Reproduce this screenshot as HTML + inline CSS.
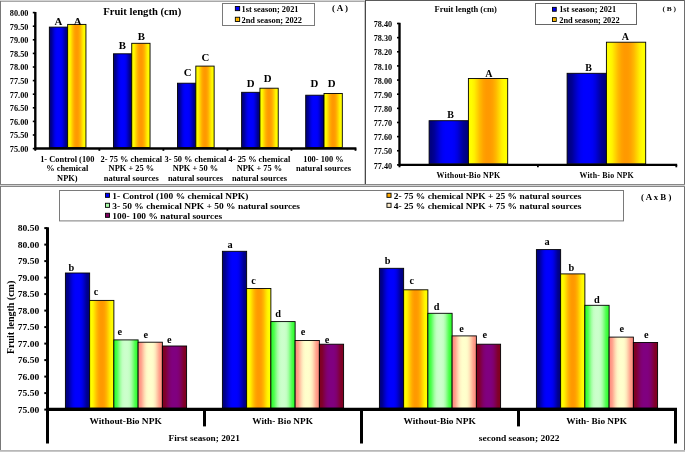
<!DOCTYPE html>
<html><head><meta charset="utf-8"><style>
html,body{margin:0;padding:0;background:#fff;width:685px;height:452px;overflow:hidden}
svg{display:block;will-change:transform}
text{font-family:"Liberation Serif",serif;font-weight:bold}
</style></head><body>
<svg width="685" height="452" viewBox="0 0 685 452"><defs><linearGradient id="gB" x1="0" x2="1" y1="0" y2="0"><stop offset="0.000" stop-color="#000080"/><stop offset="0.060" stop-color="#000083"/><stop offset="0.130" stop-color="#000096"/><stop offset="0.200" stop-color="#0000b9"/><stop offset="0.280" stop-color="#0000df"/><stop offset="0.350" stop-color="#0000f5"/><stop offset="0.420" stop-color="#0000fe"/><stop offset="0.500" stop-color="#0000ff"/><stop offset="0.580" stop-color="#0000fe"/><stop offset="0.650" stop-color="#0000f5"/><stop offset="0.720" stop-color="#0000df"/><stop offset="0.800" stop-color="#0000b9"/><stop offset="0.870" stop-color="#000096"/><stop offset="0.940" stop-color="#000083"/><stop offset="1.000" stop-color="#000080"/></linearGradient><linearGradient id="gO" x1="0" x2="1" y1="0" y2="0"><stop offset="0.000" stop-color="#ffff00"/><stop offset="0.080" stop-color="#fffd00"/><stop offset="0.150" stop-color="#fff000"/><stop offset="0.220" stop-color="#ffd600"/><stop offset="0.300" stop-color="#ffb800"/><stop offset="0.380" stop-color="#ffa300"/><stop offset="0.450" stop-color="#ff9a00"/><stop offset="0.500" stop-color="#ff9900"/><stop offset="0.550" stop-color="#ff9a00"/><stop offset="0.620" stop-color="#ffa300"/><stop offset="0.700" stop-color="#ffb800"/><stop offset="0.780" stop-color="#ffd600"/><stop offset="0.850" stop-color="#fff000"/><stop offset="0.920" stop-color="#fffd00"/><stop offset="1.000" stop-color="#ffff00"/></linearGradient><linearGradient id="gG" x1="0" x2="1" y1="0" y2="0"><stop offset="0.000" stop-color="#33ff33"/><stop offset="0.060" stop-color="#36ff36"/><stop offset="0.130" stop-color="#4dff4d"/><stop offset="0.200" stop-color="#78ff78"/><stop offset="0.280" stop-color="#a6ffa6"/><stop offset="0.350" stop-color="#c0ffc0"/><stop offset="0.420" stop-color="#caffca"/><stop offset="0.500" stop-color="#ccffcc"/><stop offset="0.580" stop-color="#caffca"/><stop offset="0.650" stop-color="#c0ffc0"/><stop offset="0.720" stop-color="#a6ffa6"/><stop offset="0.800" stop-color="#78ff78"/><stop offset="0.870" stop-color="#4dff4d"/><stop offset="0.940" stop-color="#36ff36"/><stop offset="1.000" stop-color="#33ff33"/></linearGradient><linearGradient id="gP" x1="0" x2="1" y1="0" y2="0"><stop offset="0.000" stop-color="#ff9080"/><stop offset="0.060" stop-color="#ff9282"/><stop offset="0.130" stop-color="#ffa38d"/><stop offset="0.200" stop-color="#ffc2a2"/><stop offset="0.280" stop-color="#ffe3b9"/><stop offset="0.350" stop-color="#fff6c6"/><stop offset="0.420" stop-color="#fffecb"/><stop offset="0.500" stop-color="#ffffcc"/><stop offset="0.580" stop-color="#fffecb"/><stop offset="0.650" stop-color="#fff6c6"/><stop offset="0.720" stop-color="#ffe3b9"/><stop offset="0.800" stop-color="#ffc2a2"/><stop offset="0.870" stop-color="#ffa38d"/><stop offset="0.940" stop-color="#ff9282"/><stop offset="1.000" stop-color="#ff9080"/></linearGradient><linearGradient id="gM" x1="0" x2="1" y1="0" y2="0"><stop offset="0.000" stop-color="#800020"/><stop offset="0.060" stop-color="#800022"/><stop offset="0.130" stop-color="#800030"/><stop offset="0.200" stop-color="#80004b"/><stop offset="0.280" stop-color="#800068"/><stop offset="0.350" stop-color="#800078"/><stop offset="0.420" stop-color="#80007f"/><stop offset="0.500" stop-color="#800080"/><stop offset="0.580" stop-color="#80007f"/><stop offset="0.650" stop-color="#800078"/><stop offset="0.720" stop-color="#800068"/><stop offset="0.800" stop-color="#80004b"/><stop offset="0.870" stop-color="#800030"/><stop offset="0.940" stop-color="#800022"/><stop offset="1.000" stop-color="#800020"/></linearGradient></defs><rect width="685" height="452" fill="#fff"/><rect x="0.00" y="0.00" width="365.00" height="1.00" fill="#d3d3d3"/>
<rect x="0.00" y="1.00" width="365.00" height="1.00" fill="#a8a8a8"/>
<rect x="365.00" y="0.00" width="320.00" height="1.00" fill="#5a5a5a"/>
<rect x="0.00" y="1.00" width="1.00" height="184.00" fill="#787878"/>
<rect x="364.00" y="2.00" width="1.00" height="182.00" fill="#c8c8c8"/>
<rect x="365.00" y="0.00" width="1.00" height="185.00" fill="#484848"/>
<rect x="684.00" y="0.00" width="1.00" height="452.00" fill="#6e6e6e"/>
<rect x="0.00" y="184.00" width="685.00" height="1.00" fill="#888888"/>
<rect x="0.00" y="185.00" width="685.00" height="1.00" fill="#d0d0d0"/>
<rect x="0.00" y="186.00" width="685.00" height="1.00" fill="#888888"/>
<rect x="0.00" y="186.00" width="1.00" height="264.00" fill="#787878"/>
<rect x="0.00" y="450.00" width="685.00" height="1.00" fill="#b8b8b8"/>
<rect x="0.00" y="451.00" width="685.00" height="1.00" fill="#c8c8c8"/>
<line x1="35.30" y1="12.00" x2="35.30" y2="149.70" stroke="#000" stroke-width="2.4" stroke-linecap="butt"/>
<line x1="32.80" y1="12.60" x2="35.30" y2="12.60" stroke="#000" stroke-width="1.6" stroke-linecap="butt"/>
<text x="9.80" y="15.90" font-size="8.3" font-family="'Liberation Serif', serif" font-weight="bold" text-anchor="start" fill="#000" textLength="18.60" lengthAdjust="spacingAndGlyphs">80.00</text>
<line x1="32.80" y1="26.20" x2="35.30" y2="26.20" stroke="#000" stroke-width="1.6" stroke-linecap="butt"/>
<text x="9.80" y="29.50" font-size="8.3" font-family="'Liberation Serif', serif" font-weight="bold" text-anchor="start" fill="#000" textLength="18.60" lengthAdjust="spacingAndGlyphs">79.50</text>
<line x1="32.80" y1="39.80" x2="35.30" y2="39.80" stroke="#000" stroke-width="1.6" stroke-linecap="butt"/>
<text x="9.80" y="43.10" font-size="8.3" font-family="'Liberation Serif', serif" font-weight="bold" text-anchor="start" fill="#000" textLength="18.60" lengthAdjust="spacingAndGlyphs">79.00</text>
<line x1="32.80" y1="53.40" x2="35.30" y2="53.40" stroke="#000" stroke-width="1.6" stroke-linecap="butt"/>
<text x="9.80" y="56.70" font-size="8.3" font-family="'Liberation Serif', serif" font-weight="bold" text-anchor="start" fill="#000" textLength="18.60" lengthAdjust="spacingAndGlyphs">78.50</text>
<line x1="32.80" y1="67.00" x2="35.30" y2="67.00" stroke="#000" stroke-width="1.6" stroke-linecap="butt"/>
<text x="9.80" y="70.30" font-size="8.3" font-family="'Liberation Serif', serif" font-weight="bold" text-anchor="start" fill="#000" textLength="18.60" lengthAdjust="spacingAndGlyphs">78.00</text>
<line x1="32.80" y1="80.60" x2="35.30" y2="80.60" stroke="#000" stroke-width="1.6" stroke-linecap="butt"/>
<text x="9.80" y="83.90" font-size="8.3" font-family="'Liberation Serif', serif" font-weight="bold" text-anchor="start" fill="#000" textLength="18.60" lengthAdjust="spacingAndGlyphs">77.50</text>
<line x1="32.80" y1="94.20" x2="35.30" y2="94.20" stroke="#000" stroke-width="1.6" stroke-linecap="butt"/>
<text x="9.80" y="97.50" font-size="8.3" font-family="'Liberation Serif', serif" font-weight="bold" text-anchor="start" fill="#000" textLength="18.60" lengthAdjust="spacingAndGlyphs">77.00</text>
<line x1="32.80" y1="107.80" x2="35.30" y2="107.80" stroke="#000" stroke-width="1.6" stroke-linecap="butt"/>
<text x="9.80" y="111.10" font-size="8.3" font-family="'Liberation Serif', serif" font-weight="bold" text-anchor="start" fill="#000" textLength="18.60" lengthAdjust="spacingAndGlyphs">76.50</text>
<line x1="32.80" y1="121.40" x2="35.30" y2="121.40" stroke="#000" stroke-width="1.6" stroke-linecap="butt"/>
<text x="9.80" y="124.70" font-size="8.3" font-family="'Liberation Serif', serif" font-weight="bold" text-anchor="start" fill="#000" textLength="18.60" lengthAdjust="spacingAndGlyphs">76.00</text>
<line x1="32.80" y1="135.00" x2="35.30" y2="135.00" stroke="#000" stroke-width="1.6" stroke-linecap="butt"/>
<text x="9.80" y="138.30" font-size="8.3" font-family="'Liberation Serif', serif" font-weight="bold" text-anchor="start" fill="#000" textLength="18.60" lengthAdjust="spacingAndGlyphs">75.50</text>
<line x1="32.80" y1="148.60" x2="35.30" y2="148.60" stroke="#000" stroke-width="1.6" stroke-linecap="butt"/>
<text x="9.80" y="151.90" font-size="8.3" font-family="'Liberation Serif', serif" font-weight="bold" text-anchor="start" fill="#000" textLength="18.60" lengthAdjust="spacingAndGlyphs">75.00</text>
<line x1="35.30" y1="148.50" x2="356.40" y2="148.50" stroke="#000" stroke-width="2.4" stroke-linecap="butt"/>
<line x1="35.30" y1="148.50" x2="35.30" y2="150.80" stroke="#000" stroke-width="1.8" stroke-linecap="butt"/>
<line x1="99.34" y1="148.50" x2="99.34" y2="150.80" stroke="#000" stroke-width="1.8" stroke-linecap="butt"/>
<line x1="163.38" y1="148.50" x2="163.38" y2="150.80" stroke="#000" stroke-width="1.8" stroke-linecap="butt"/>
<line x1="227.42" y1="148.50" x2="227.42" y2="150.80" stroke="#000" stroke-width="1.8" stroke-linecap="butt"/>
<line x1="291.46" y1="148.50" x2="291.46" y2="150.80" stroke="#000" stroke-width="1.8" stroke-linecap="butt"/>
<line x1="355.50" y1="148.50" x2="355.50" y2="150.80" stroke="#000" stroke-width="1.8" stroke-linecap="butt"/>
<rect x="49.35" y="27.10" width="18.30" height="120.40" fill="url(#gB)" stroke="#000" stroke-width="0.9"/>
<rect x="67.65" y="24.40" width="18.30" height="123.10" fill="url(#gO)" stroke="#000" stroke-width="0.9"/>
<rect x="113.44" y="53.80" width="18.30" height="93.70" fill="url(#gB)" stroke="#000" stroke-width="0.9"/>
<rect x="131.74" y="43.30" width="18.30" height="104.20" fill="url(#gO)" stroke="#000" stroke-width="0.9"/>
<rect x="177.53" y="83.20" width="18.30" height="64.30" fill="url(#gB)" stroke="#000" stroke-width="0.9"/>
<rect x="195.83" y="66.10" width="18.30" height="81.40" fill="url(#gO)" stroke="#000" stroke-width="0.9"/>
<rect x="241.62" y="92.30" width="18.30" height="55.20" fill="url(#gB)" stroke="#000" stroke-width="0.9"/>
<rect x="259.92" y="88.20" width="18.30" height="59.30" fill="url(#gO)" stroke="#000" stroke-width="0.9"/>
<rect x="305.71" y="95.20" width="18.30" height="52.30" fill="url(#gB)" stroke="#000" stroke-width="0.9"/>
<rect x="324.01" y="93.50" width="18.30" height="54.00" fill="url(#gO)" stroke="#000" stroke-width="0.9"/>
<text x="58.40" y="24.90" font-size="10.8" font-family="'Liberation Serif', serif" font-weight="bold" text-anchor="middle" fill="#000">A</text>
<text x="77.60" y="24.50" font-size="10.8" font-family="'Liberation Serif', serif" font-weight="bold" text-anchor="middle" fill="#000">A</text>
<text x="122.30" y="48.50" font-size="10.8" font-family="'Liberation Serif', serif" font-weight="bold" text-anchor="middle" fill="#000">B</text>
<text x="141.30" y="40.00" font-size="10.8" font-family="'Liberation Serif', serif" font-weight="bold" text-anchor="middle" fill="#000">B</text>
<text x="187.60" y="75.80" font-size="10.8" font-family="'Liberation Serif', serif" font-weight="bold" text-anchor="middle" fill="#000">C</text>
<text x="205.50" y="60.90" font-size="10.8" font-family="'Liberation Serif', serif" font-weight="bold" text-anchor="middle" fill="#000">C</text>
<text x="250.70" y="87.00" font-size="10.8" font-family="'Liberation Serif', serif" font-weight="bold" text-anchor="middle" fill="#000">D</text>
<text x="267.70" y="81.70" font-size="10.8" font-family="'Liberation Serif', serif" font-weight="bold" text-anchor="middle" fill="#000">D</text>
<text x="314.40" y="87.10" font-size="10.8" font-family="'Liberation Serif', serif" font-weight="bold" text-anchor="middle" fill="#000">D</text>
<text x="331.60" y="87.10" font-size="10.8" font-family="'Liberation Serif', serif" font-weight="bold" text-anchor="middle" fill="#000">D</text>
<text x="67.32" y="161.90" font-size="8.4" font-family="'Liberation Serif', serif" font-weight="bold" text-anchor="middle" fill="#000">1- Control (100</text>
<text x="67.32" y="171.00" font-size="8.4" font-family="'Liberation Serif', serif" font-weight="bold" text-anchor="middle" fill="#000">% chemical</text>
<text x="67.32" y="180.60" font-size="8.4" font-family="'Liberation Serif', serif" font-weight="bold" text-anchor="middle" fill="#000">NPK)</text>
<text x="131.36" y="161.90" font-size="8.4" font-family="'Liberation Serif', serif" font-weight="bold" text-anchor="middle" fill="#000">2- 75 % chemical</text>
<text x="131.36" y="171.00" font-size="8.4" font-family="'Liberation Serif', serif" font-weight="bold" text-anchor="middle" fill="#000">NPK + 25 %</text>
<text x="131.36" y="180.60" font-size="8.4" font-family="'Liberation Serif', serif" font-weight="bold" text-anchor="middle" fill="#000">natural sources</text>
<text x="195.40" y="161.90" font-size="8.4" font-family="'Liberation Serif', serif" font-weight="bold" text-anchor="middle" fill="#000">3- 50 % chemical</text>
<text x="195.40" y="171.00" font-size="8.4" font-family="'Liberation Serif', serif" font-weight="bold" text-anchor="middle" fill="#000">NPK + 50 %</text>
<text x="195.40" y="180.60" font-size="8.4" font-family="'Liberation Serif', serif" font-weight="bold" text-anchor="middle" fill="#000">natural sources</text>
<text x="259.44" y="161.90" font-size="8.4" font-family="'Liberation Serif', serif" font-weight="bold" text-anchor="middle" fill="#000">4- 25 % chemical</text>
<text x="259.44" y="171.00" font-size="8.4" font-family="'Liberation Serif', serif" font-weight="bold" text-anchor="middle" fill="#000">NPK + 75 %</text>
<text x="259.44" y="180.60" font-size="8.4" font-family="'Liberation Serif', serif" font-weight="bold" text-anchor="middle" fill="#000">natural sources</text>
<text x="323.48" y="161.90" font-size="8.4" font-family="'Liberation Serif', serif" font-weight="bold" text-anchor="middle" fill="#000">100- 100 %</text>
<text x="323.48" y="171.00" font-size="8.4" font-family="'Liberation Serif', serif" font-weight="bold" text-anchor="middle" fill="#000">natural sources</text>
<text x="103.20" y="15.20" font-size="10.6" font-family="'Liberation Serif', serif" font-weight="bold" text-anchor="start" fill="#000" textLength="78.00" lengthAdjust="spacingAndGlyphs">Fruit length (cm)</text>
<rect x="222.50" y="3.50" width="92.00" height="22.00" fill="#fff" stroke="#7a7a7a" stroke-width="1"/>
<rect x="235.35" y="6.45" width="4.30" height="4.20" fill="#0000ff" stroke="#000" stroke-width="0.9"/>
<rect x="235.35" y="17.25" width="4.30" height="4.20" fill="url(#gO)" stroke="#000" stroke-width="0.9"/>
<text x="241.50" y="11.80" font-size="8.4" font-family="'Liberation Serif', serif" font-weight="bold" text-anchor="start" fill="#000" textLength="57.00" lengthAdjust="spacingAndGlyphs">1st season; 2021</text>
<text x="241.50" y="22.80" font-size="8.4" font-family="'Liberation Serif', serif" font-weight="bold" text-anchor="start" fill="#000" textLength="60.50" lengthAdjust="spacingAndGlyphs">2nd season; 2022</text>
<text x="332.00" y="10.90" font-size="7.6" font-family="'Liberation Serif', serif" font-weight="bold" text-anchor="start" fill="#000" textLength="16.00" lengthAdjust="spacingAndGlyphs">( A )</text>
<line x1="399.50" y1="22.80" x2="399.50" y2="166.20" stroke="#000" stroke-width="2.4" stroke-linecap="butt"/>
<line x1="397.00" y1="23.50" x2="399.50" y2="23.50" stroke="#000" stroke-width="1.6" stroke-linecap="butt"/>
<text x="373.70" y="27.10" font-size="8" font-family="'Liberation Serif', serif" font-weight="bold" text-anchor="start" fill="#000" textLength="18.40" lengthAdjust="spacingAndGlyphs">78.40</text>
<line x1="397.00" y1="37.64" x2="399.50" y2="37.64" stroke="#000" stroke-width="1.6" stroke-linecap="butt"/>
<text x="373.70" y="41.24" font-size="8" font-family="'Liberation Serif', serif" font-weight="bold" text-anchor="start" fill="#000" textLength="18.40" lengthAdjust="spacingAndGlyphs">78.30</text>
<line x1="397.00" y1="51.78" x2="399.50" y2="51.78" stroke="#000" stroke-width="1.6" stroke-linecap="butt"/>
<text x="373.70" y="55.38" font-size="8" font-family="'Liberation Serif', serif" font-weight="bold" text-anchor="start" fill="#000" textLength="18.40" lengthAdjust="spacingAndGlyphs">78.20</text>
<line x1="397.00" y1="65.92" x2="399.50" y2="65.92" stroke="#000" stroke-width="1.6" stroke-linecap="butt"/>
<text x="373.70" y="69.52" font-size="8" font-family="'Liberation Serif', serif" font-weight="bold" text-anchor="start" fill="#000" textLength="18.40" lengthAdjust="spacingAndGlyphs">78.10</text>
<line x1="397.00" y1="80.06" x2="399.50" y2="80.06" stroke="#000" stroke-width="1.6" stroke-linecap="butt"/>
<text x="373.70" y="83.66" font-size="8" font-family="'Liberation Serif', serif" font-weight="bold" text-anchor="start" fill="#000" textLength="18.40" lengthAdjust="spacingAndGlyphs">78.00</text>
<line x1="397.00" y1="94.20" x2="399.50" y2="94.20" stroke="#000" stroke-width="1.6" stroke-linecap="butt"/>
<text x="373.70" y="97.80" font-size="8" font-family="'Liberation Serif', serif" font-weight="bold" text-anchor="start" fill="#000" textLength="18.40" lengthAdjust="spacingAndGlyphs">77.90</text>
<line x1="397.00" y1="108.34" x2="399.50" y2="108.34" stroke="#000" stroke-width="1.6" stroke-linecap="butt"/>
<text x="373.70" y="111.94" font-size="8" font-family="'Liberation Serif', serif" font-weight="bold" text-anchor="start" fill="#000" textLength="18.40" lengthAdjust="spacingAndGlyphs">77.80</text>
<line x1="397.00" y1="122.48" x2="399.50" y2="122.48" stroke="#000" stroke-width="1.6" stroke-linecap="butt"/>
<text x="373.70" y="126.08" font-size="8" font-family="'Liberation Serif', serif" font-weight="bold" text-anchor="start" fill="#000" textLength="18.40" lengthAdjust="spacingAndGlyphs">77.70</text>
<line x1="397.00" y1="136.62" x2="399.50" y2="136.62" stroke="#000" stroke-width="1.6" stroke-linecap="butt"/>
<text x="373.70" y="140.22" font-size="8" font-family="'Liberation Serif', serif" font-weight="bold" text-anchor="start" fill="#000" textLength="18.40" lengthAdjust="spacingAndGlyphs">77.60</text>
<line x1="397.00" y1="150.76" x2="399.50" y2="150.76" stroke="#000" stroke-width="1.6" stroke-linecap="butt"/>
<text x="373.70" y="154.36" font-size="8" font-family="'Liberation Serif', serif" font-weight="bold" text-anchor="start" fill="#000" textLength="18.40" lengthAdjust="spacingAndGlyphs">77.50</text>
<line x1="397.00" y1="164.90" x2="399.50" y2="164.90" stroke="#000" stroke-width="1.6" stroke-linecap="butt"/>
<text x="373.70" y="168.50" font-size="8" font-family="'Liberation Serif', serif" font-weight="bold" text-anchor="start" fill="#000" textLength="18.40" lengthAdjust="spacingAndGlyphs">77.40</text>
<line x1="399.50" y1="164.90" x2="677.20" y2="164.90" stroke="#000" stroke-width="2.4" stroke-linecap="butt"/>
<line x1="399.50" y1="164.90" x2="399.50" y2="167.30" stroke="#000" stroke-width="1.8" stroke-linecap="butt"/>
<line x1="537.90" y1="164.90" x2="537.90" y2="167.30" stroke="#000" stroke-width="1.8" stroke-linecap="butt"/>
<line x1="676.30" y1="164.90" x2="676.30" y2="167.30" stroke="#000" stroke-width="1.8" stroke-linecap="butt"/>
<rect x="429.10" y="120.70" width="39.30" height="43.10" fill="url(#gB)" stroke="#000" stroke-width="0.9"/>
<rect x="468.40" y="78.50" width="39.30" height="85.30" fill="url(#gO)" stroke="#000" stroke-width="0.9"/>
<rect x="567.10" y="73.30" width="39.30" height="90.50" fill="url(#gB)" stroke="#000" stroke-width="0.9"/>
<rect x="606.40" y="42.20" width="39.30" height="121.60" fill="url(#gO)" stroke="#000" stroke-width="0.9"/>
<text x="450.70" y="118.00" font-size="10" font-family="'Liberation Serif', serif" font-weight="bold" text-anchor="middle" fill="#000">B</text>
<text x="488.90" y="76.70" font-size="10" font-family="'Liberation Serif', serif" font-weight="bold" text-anchor="middle" fill="#000">A</text>
<text x="588.50" y="70.50" font-size="10" font-family="'Liberation Serif', serif" font-weight="bold" text-anchor="middle" fill="#000">B</text>
<text x="625.40" y="39.80" font-size="10" font-family="'Liberation Serif', serif" font-weight="bold" text-anchor="middle" fill="#000">A</text>
<text x="436.60" y="177.50" font-size="7.9" font-family="'Liberation Serif', serif" font-weight="bold" text-anchor="start" fill="#000" textLength="63.60" lengthAdjust="spacing">Without-Bio NPK</text>
<text x="579.45" y="177.50" font-size="7.9" font-family="'Liberation Serif', serif" font-weight="bold" text-anchor="start" fill="#000" textLength="54.30" lengthAdjust="spacing">With- Bio NPK</text>
<text x="434.60" y="11.90" font-size="8.5" font-family="'Liberation Serif', serif" font-weight="bold" text-anchor="start" fill="#000" textLength="62.20" lengthAdjust="spacingAndGlyphs">Fruit length (cm)</text>
<rect x="535.50" y="3.50" width="101.00" height="21.00" fill="#fff" stroke="#666" stroke-width="1"/>
<rect x="552.45" y="7.35" width="3.80" height="3.90" fill="#0000ff" stroke="#000" stroke-width="0.9"/>
<rect x="552.45" y="17.65" width="3.80" height="3.80" fill="url(#gO)" stroke="#000" stroke-width="0.9"/>
<text x="559.20" y="12.00" font-size="8.4" font-family="'Liberation Serif', serif" font-weight="bold" text-anchor="start" fill="#000" textLength="57.00" lengthAdjust="spacingAndGlyphs">1st season; 2021</text>
<text x="559.20" y="22.70" font-size="8.4" font-family="'Liberation Serif', serif" font-weight="bold" text-anchor="start" fill="#000" textLength="60.50" lengthAdjust="spacingAndGlyphs">2nd season; 2022</text>
<text x="662.40" y="10.60" font-size="7" font-family="'Liberation Serif', serif" font-weight="bold" text-anchor="start" fill="#000" textLength="13.60" lengthAdjust="spacingAndGlyphs">( B )</text>
<line x1="47.50" y1="227.30" x2="47.50" y2="443.50" stroke="#000" stroke-width="3" stroke-linecap="butt"/>
<line x1="44.30" y1="228.10" x2="47.50" y2="228.10" stroke="#000" stroke-width="2" stroke-linecap="butt"/>
<text x="17.70" y="231.10" font-size="8.7" font-family="'Liberation Serif', serif" font-weight="bold" text-anchor="start" fill="#000" textLength="21.50" lengthAdjust="spacingAndGlyphs">80.50</text>
<line x1="44.30" y1="244.60" x2="47.50" y2="244.60" stroke="#000" stroke-width="2" stroke-linecap="butt"/>
<text x="17.70" y="247.60" font-size="8.7" font-family="'Liberation Serif', serif" font-weight="bold" text-anchor="start" fill="#000" textLength="21.50" lengthAdjust="spacingAndGlyphs">80.00</text>
<line x1="44.30" y1="261.10" x2="47.50" y2="261.10" stroke="#000" stroke-width="2" stroke-linecap="butt"/>
<text x="17.70" y="264.10" font-size="8.7" font-family="'Liberation Serif', serif" font-weight="bold" text-anchor="start" fill="#000" textLength="21.50" lengthAdjust="spacingAndGlyphs">79.50</text>
<line x1="44.30" y1="277.60" x2="47.50" y2="277.60" stroke="#000" stroke-width="2" stroke-linecap="butt"/>
<text x="17.70" y="280.60" font-size="8.7" font-family="'Liberation Serif', serif" font-weight="bold" text-anchor="start" fill="#000" textLength="21.50" lengthAdjust="spacingAndGlyphs">79.00</text>
<line x1="44.30" y1="294.10" x2="47.50" y2="294.10" stroke="#000" stroke-width="2" stroke-linecap="butt"/>
<text x="17.70" y="297.10" font-size="8.7" font-family="'Liberation Serif', serif" font-weight="bold" text-anchor="start" fill="#000" textLength="21.50" lengthAdjust="spacingAndGlyphs">78.50</text>
<line x1="44.30" y1="310.60" x2="47.50" y2="310.60" stroke="#000" stroke-width="2" stroke-linecap="butt"/>
<text x="17.70" y="313.60" font-size="8.7" font-family="'Liberation Serif', serif" font-weight="bold" text-anchor="start" fill="#000" textLength="21.50" lengthAdjust="spacingAndGlyphs">78.00</text>
<line x1="44.30" y1="327.10" x2="47.50" y2="327.10" stroke="#000" stroke-width="2" stroke-linecap="butt"/>
<text x="17.70" y="330.10" font-size="8.7" font-family="'Liberation Serif', serif" font-weight="bold" text-anchor="start" fill="#000" textLength="21.50" lengthAdjust="spacingAndGlyphs">77.50</text>
<line x1="44.30" y1="343.60" x2="47.50" y2="343.60" stroke="#000" stroke-width="2" stroke-linecap="butt"/>
<text x="17.70" y="346.60" font-size="8.7" font-family="'Liberation Serif', serif" font-weight="bold" text-anchor="start" fill="#000" textLength="21.50" lengthAdjust="spacingAndGlyphs">77.00</text>
<line x1="44.30" y1="360.10" x2="47.50" y2="360.10" stroke="#000" stroke-width="2" stroke-linecap="butt"/>
<text x="17.70" y="363.10" font-size="8.7" font-family="'Liberation Serif', serif" font-weight="bold" text-anchor="start" fill="#000" textLength="21.50" lengthAdjust="spacingAndGlyphs">76.50</text>
<line x1="44.30" y1="376.60" x2="47.50" y2="376.60" stroke="#000" stroke-width="2" stroke-linecap="butt"/>
<text x="17.70" y="379.60" font-size="8.7" font-family="'Liberation Serif', serif" font-weight="bold" text-anchor="start" fill="#000" textLength="21.50" lengthAdjust="spacingAndGlyphs">76.00</text>
<line x1="44.30" y1="393.10" x2="47.50" y2="393.10" stroke="#000" stroke-width="2" stroke-linecap="butt"/>
<text x="17.70" y="396.10" font-size="8.7" font-family="'Liberation Serif', serif" font-weight="bold" text-anchor="start" fill="#000" textLength="21.50" lengthAdjust="spacingAndGlyphs">75.50</text>
<line x1="44.30" y1="409.60" x2="47.50" y2="409.60" stroke="#000" stroke-width="2" stroke-linecap="butt"/>
<text x="17.70" y="412.60" font-size="8.7" font-family="'Liberation Serif', serif" font-weight="bold" text-anchor="start" fill="#000" textLength="21.50" lengthAdjust="spacingAndGlyphs">75.00</text>
<line x1="47.50" y1="409.30" x2="677.00" y2="409.30" stroke="#000" stroke-width="3.2" stroke-linecap="butt"/>
<line x1="204.50" y1="409.50" x2="204.50" y2="426.40" stroke="#000" stroke-width="3" stroke-linecap="butt"/>
<line x1="361.50" y1="409.50" x2="361.50" y2="443.50" stroke="#000" stroke-width="3" stroke-linecap="butt"/>
<line x1="518.50" y1="409.50" x2="518.50" y2="426.40" stroke="#000" stroke-width="3" stroke-linecap="butt"/>
<line x1="675.50" y1="409.50" x2="675.50" y2="443.50" stroke="#000" stroke-width="3" stroke-linecap="butt"/>
<rect x="65.40" y="273.00" width="24.24" height="135.00" fill="url(#gB)" stroke="#000" stroke-width="0.9"/>
<rect x="89.64" y="300.40" width="24.24" height="107.60" fill="url(#gO)" stroke="#000" stroke-width="0.9"/>
<rect x="113.88" y="339.90" width="24.24" height="68.10" fill="url(#gG)" stroke="#000" stroke-width="0.9"/>
<rect x="138.12" y="342.20" width="24.24" height="65.80" fill="url(#gP)" stroke="#000" stroke-width="0.9"/>
<rect x="162.36" y="346.00" width="24.24" height="62.00" fill="url(#gM)" stroke="#000" stroke-width="0.9"/>
<rect x="222.40" y="251.30" width="24.24" height="156.70" fill="url(#gB)" stroke="#000" stroke-width="0.9"/>
<rect x="246.64" y="288.50" width="24.24" height="119.50" fill="url(#gO)" stroke="#000" stroke-width="0.9"/>
<rect x="270.88" y="321.60" width="24.24" height="86.40" fill="url(#gG)" stroke="#000" stroke-width="0.9"/>
<rect x="295.12" y="340.50" width="24.24" height="67.50" fill="url(#gP)" stroke="#000" stroke-width="0.9"/>
<rect x="319.36" y="344.20" width="24.24" height="63.80" fill="url(#gM)" stroke="#000" stroke-width="0.9"/>
<rect x="379.40" y="268.30" width="24.24" height="139.70" fill="url(#gB)" stroke="#000" stroke-width="0.9"/>
<rect x="403.64" y="289.80" width="24.24" height="118.20" fill="url(#gO)" stroke="#000" stroke-width="0.9"/>
<rect x="427.88" y="313.30" width="24.24" height="94.70" fill="url(#gG)" stroke="#000" stroke-width="0.9"/>
<rect x="452.12" y="335.90" width="24.24" height="72.10" fill="url(#gP)" stroke="#000" stroke-width="0.9"/>
<rect x="476.36" y="344.20" width="24.24" height="63.80" fill="url(#gM)" stroke="#000" stroke-width="0.9"/>
<rect x="536.40" y="249.60" width="24.24" height="158.40" fill="url(#gB)" stroke="#000" stroke-width="0.9"/>
<rect x="560.64" y="273.90" width="24.24" height="134.10" fill="url(#gO)" stroke="#000" stroke-width="0.9"/>
<rect x="584.88" y="305.30" width="24.24" height="102.70" fill="url(#gG)" stroke="#000" stroke-width="0.9"/>
<rect x="609.12" y="337.10" width="24.24" height="70.90" fill="url(#gP)" stroke="#000" stroke-width="0.9"/>
<rect x="633.36" y="342.50" width="24.24" height="65.50" fill="url(#gM)" stroke="#000" stroke-width="0.9"/>
<text x="71.30" y="271.20" font-size="10.3" font-family="'Liberation Serif', serif" font-weight="bold" text-anchor="middle" fill="#000">b</text>
<text x="96.00" y="295.00" font-size="10.3" font-family="'Liberation Serif', serif" font-weight="bold" text-anchor="middle" fill="#000">c</text>
<text x="119.80" y="334.50" font-size="10.3" font-family="'Liberation Serif', serif" font-weight="bold" text-anchor="middle" fill="#000">e</text>
<text x="145.70" y="338.00" font-size="10.3" font-family="'Liberation Serif', serif" font-weight="bold" text-anchor="middle" fill="#000">e</text>
<text x="169.40" y="343.00" font-size="10.3" font-family="'Liberation Serif', serif" font-weight="bold" text-anchor="middle" fill="#000">e</text>
<text x="230.00" y="248.20" font-size="10.3" font-family="'Liberation Serif', serif" font-weight="bold" text-anchor="middle" fill="#000">a</text>
<text x="253.50" y="284.10" font-size="10.3" font-family="'Liberation Serif', serif" font-weight="bold" text-anchor="middle" fill="#000">c</text>
<text x="278.20" y="316.70" font-size="10.3" font-family="'Liberation Serif', serif" font-weight="bold" text-anchor="middle" fill="#000">d</text>
<text x="303.00" y="335.00" font-size="10.3" font-family="'Liberation Serif', serif" font-weight="bold" text-anchor="middle" fill="#000">e</text>
<text x="327.10" y="343.00" font-size="10.3" font-family="'Liberation Serif', serif" font-weight="bold" text-anchor="middle" fill="#000">e</text>
<text x="387.50" y="264.20" font-size="10.3" font-family="'Liberation Serif', serif" font-weight="bold" text-anchor="middle" fill="#000">b</text>
<text x="411.70" y="284.00" font-size="10.3" font-family="'Liberation Serif', serif" font-weight="bold" text-anchor="middle" fill="#000">c</text>
<text x="436.70" y="309.50" font-size="10.3" font-family="'Liberation Serif', serif" font-weight="bold" text-anchor="middle" fill="#000">d</text>
<text x="461.60" y="332.10" font-size="10.3" font-family="'Liberation Serif', serif" font-weight="bold" text-anchor="middle" fill="#000">e</text>
<text x="484.70" y="338.30" font-size="10.3" font-family="'Liberation Serif', serif" font-weight="bold" text-anchor="middle" fill="#000">e</text>
<text x="547.00" y="244.80" font-size="10.3" font-family="'Liberation Serif', serif" font-weight="bold" text-anchor="middle" fill="#000">a</text>
<text x="571.30" y="271.10" font-size="10.3" font-family="'Liberation Serif', serif" font-weight="bold" text-anchor="middle" fill="#000">b</text>
<text x="596.80" y="302.50" font-size="10.3" font-family="'Liberation Serif', serif" font-weight="bold" text-anchor="middle" fill="#000">d</text>
<text x="621.70" y="332.30" font-size="10.3" font-family="'Liberation Serif', serif" font-weight="bold" text-anchor="middle" fill="#000">e</text>
<text x="646.40" y="338.00" font-size="10.3" font-family="'Liberation Serif', serif" font-weight="bold" text-anchor="middle" fill="#000">e</text>
<text x="89.45" y="423.90" font-size="8.7" font-family="'Liberation Serif', serif" font-weight="bold" text-anchor="start" fill="#000" textLength="72.30" lengthAdjust="spacingAndGlyphs">Without-Bio NPK</text>
<text x="252.30" y="423.90" font-size="8.7" font-family="'Liberation Serif', serif" font-weight="bold" text-anchor="start" fill="#000" textLength="60.60" lengthAdjust="spacingAndGlyphs">With- Bio NPK</text>
<text x="403.45" y="423.90" font-size="8.7" font-family="'Liberation Serif', serif" font-weight="bold" text-anchor="start" fill="#000" textLength="72.30" lengthAdjust="spacingAndGlyphs">Without-Bio NPK</text>
<text x="566.30" y="423.90" font-size="8.7" font-family="'Liberation Serif', serif" font-weight="bold" text-anchor="start" fill="#000" textLength="60.60" lengthAdjust="spacingAndGlyphs">With- Bio NPK</text>
<text x="168.50" y="441.20" font-size="8.9" font-family="'Liberation Serif', serif" font-weight="bold" text-anchor="start" fill="#000" textLength="71.30" lengthAdjust="spacingAndGlyphs">First season; 2021</text>
<text x="478.80" y="441.20" font-size="8.9" font-family="'Liberation Serif', serif" font-weight="bold" text-anchor="start" fill="#000" textLength="80.60" lengthAdjust="spacingAndGlyphs">second season; 2022</text>
<text transform="translate(14,317.4) rotate(-90)" x="0" y="0" font-size="10" font-family="'Liberation Serif', serif" font-weight="bold" text-anchor="middle">Fruit length (cm)</text>
<rect x="59.50" y="190.50" width="564.00" height="30.40" fill="#fff" stroke="#7a7a7a" stroke-width="1"/>
<rect x="105.45" y="193.25" width="4.10" height="4.10" fill="#0000ff" stroke="#000" stroke-width="0.9"/>
<text x="112.30" y="198.70" font-size="8.8" font-family="'Liberation Serif', serif" font-weight="bold" text-anchor="start" fill="#000" textLength="136.00" lengthAdjust="spacingAndGlyphs">1- Control (100 % chemical NPK)</text>
<rect x="105.45" y="203.25" width="4.10" height="4.10" fill="#aaffaa" stroke="#000" stroke-width="0.9"/>
<text x="112.30" y="208.70" font-size="8.8" font-family="'Liberation Serif', serif" font-weight="bold" text-anchor="start" fill="#000" textLength="187.70" lengthAdjust="spacingAndGlyphs">3- 50 % chemical NPK + 50 % natural sources</text>
<rect x="105.45" y="213.25" width="4.10" height="4.10" fill="#800060" stroke="#000" stroke-width="0.9"/>
<text x="112.30" y="218.70" font-size="8.8" font-family="'Liberation Serif', serif" font-weight="bold" text-anchor="start" fill="#000" textLength="109.80" lengthAdjust="spacingAndGlyphs">100- 100 % natural sources</text>
<rect x="386.95" y="193.25" width="4.10" height="4.10" fill="#ffaa00" stroke="#000" stroke-width="0.9"/>
<text x="393.80" y="198.70" font-size="8.8" font-family="'Liberation Serif', serif" font-weight="bold" text-anchor="start" fill="#000" textLength="187.70" lengthAdjust="spacingAndGlyphs">2- 75 % chemical NPK + 25 % natural sources</text>
<rect x="386.95" y="203.25" width="4.10" height="4.10" fill="#ffeecc" stroke="#000" stroke-width="0.9"/>
<text x="393.80" y="208.70" font-size="8.8" font-family="'Liberation Serif', serif" font-weight="bold" text-anchor="start" fill="#000" textLength="187.70" lengthAdjust="spacingAndGlyphs">4- 25 % chemical NPK + 75 % natural sources</text>
<text x="641.00" y="199.80" font-size="8.6" font-family="'Liberation Serif', serif" font-weight="bold" text-anchor="start" fill="#000" textLength="30.40" lengthAdjust="spacingAndGlyphs">( A x B )</text></svg>
</body></html>
